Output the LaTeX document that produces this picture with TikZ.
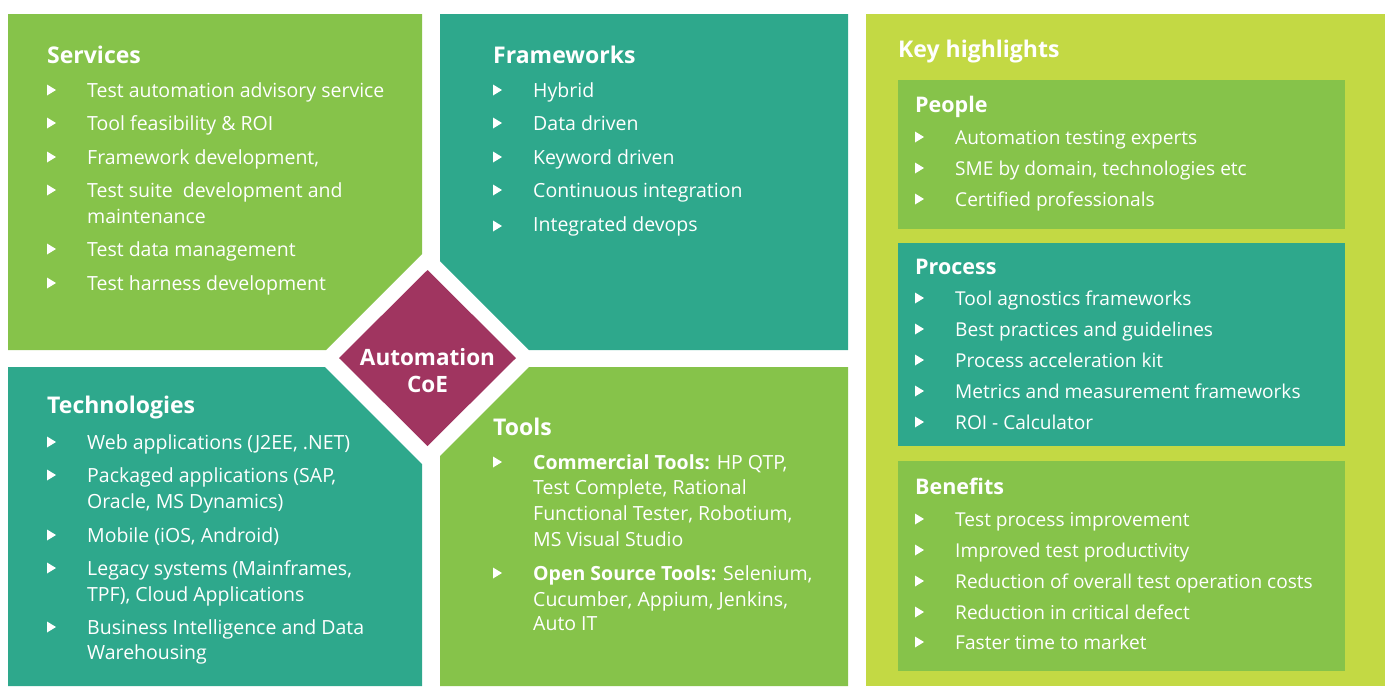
\documentclass[tikz,border=0pt]{standalone}
\usepackage{fontspec}
\setmainfont{Open Sans}
\definecolor{cgreen}{RGB}{134,195,74}
\definecolor{cteal}{RGB}{46,168,140}
\definecolor{clime}{RGB}{195,217,68}
\definecolor{cmag}{RGB}{160,53,96}
\tikzset{
  itm/.style={anchor=base west, inner sep=0pt, text=white, font=\fontsize{19.5}{23}\selectfont},
  itmr/.style={anchor=base west, inner sep=0pt, text=white, font=\fontsize{19.1}{23}\selectfont},
  hd/.style={anchor=base west, inner sep=0pt, text=white, font=\fontsize{23}{27}\selectfont\bfseries},
  subhd/.style={anchor=base west, inner sep=0pt, text=white, font=\fontsize{21.5}{25}\selectfont\bfseries},
  coetext/.style={anchor=base, inner sep=0pt, text=white, font=\fontsize{22.5}{27}\selectfont\bfseries},
  bulletmark/.style={fill=white},
}
\newcommand\bul[2]{\fill[bulletmark] (#1,#2-12.5) -- (#1,#2-1.5) -- (#1+9,#2-7) -- cycle;}
\begin{document}
\begin{tikzpicture}[x=1pt,y=-1pt]
\useasboundingbox (0,0) rectangle (1385,686);
% quadrant boxes
\fill[cgreen] (8,14) -- (422,14) -- (422,254) -- (326,350) -- (8,350) -- cycle;
\fill[cteal] (440,14) -- (848,14) -- (848,350) -- (529,350) -- (440,261) -- cycle;
\fill[cteal] (8,367) -- (325,367) -- (422,464) -- (422,686) -- (8,686) -- cycle;
\fill[cgreen] (529,367) -- (848,367) -- (848,686) -- (440,686) -- (440,456) -- cycle;
% diamond
\fill[cmag] (427.5,270) -- (516,358) -- (427.5,446) -- (339,358) -- cycle;
\node[coetext] (coe1) at (427.5,365) {Automation};
\node[coetext] (coe2) at (427.5,392) {CoE};
% right panel
\fill[clime] (866,14) rectangle (1385,686);
\fill[cgreen] (898,80) rectangle (1345,229);
\fill[cteal] (898,243) rectangle (1345,446);
\fill[cgreen] (898,461) rectangle (1345,671);

% Services
\node[hd] (srvh) at (47,63) {Services};
\bul{47}{97}\node[itm] (s1) at (87,97) {Test automation advisory service};
\bul{47}{130}\node[itm] (s2) at (87,130) {Tool feasibility \& ROI};
\bul{47}{164}\node[itm] (s3) at (87,164) {Framework development,};
\bul{47}{197}\node[itm] (s4) at (87,197) {Test suite\ \ development and};
\node[itm] (s4b) at (87,223) {maintenance};
\bul{47}{256}\node[itm] (s5) at (87,256) {Test data management};
\bul{47}{290}\node[itm] (s6) at (87,290) {Test harness development};

% Frameworks
\node[hd] (frh) at (493,63) {Frameworks};
\bul{493}{97}\node[itm] (f1) at (533,97) {Hybrid};
\bul{493}{130}\node[itm] (f2) at (533,130) {Data driven};
\bul{493}{164}\node[itm] (f3) at (533,164) {Keyword driven};
\bul{493}{197}\node[itm] (f4) at (533,197) {Continuous integration};
\bul{493}{233}\node[itm] (f5) at (533,231) {Integrated devops};

% Technologies
\node[hd] (teh) at (47,413) {Technologies};
\bul{47}{449}\node[itm] (t1) at (87,449) {Web applications (J2EE, .NET)};
\bul{47}{482}\node[itm] (t2) at (87,482) {Packaged applications (SAP,};
\node[itm] (t2b) at (87,508) {Oracle, MS Dynamics)};
\bul{47}{542}\node[itm] (t3) at (87,542) {Mobile (iOS, Android)};
\bul{47}{575}\node[itm] (t4) at (87,575) {Legacy systems (Mainframes,};
\node[itm] (t4b) at (87,601) {TPF), Cloud Applications};
\bul{47}{634}\node[itm] (t5) at (87,634) {Business Intelligence and Data};
\node[itm] (t5b) at (87,659) {Warehousing};

% Tools
\node[hd] (toh) at (493,435) {Tools};
\bul{493}{469}\node[itm] (o1) at (533,469) {\textbf{Commercial Tools:} HP QTP,};
\node[itm] (o1b) at (533,494) {Test Complete, Rational};
\node[itm] (o1c) at (533,520) {Functional Tester, Robotium,};
\node[itm] (o1d) at (533,546) {MS Visual Studio};
\bul{493}{580}\node[itm] (o2) at (533,580) {\textbf{Open Source Tools:} Selenium,};
\node[itm] (o2b) at (533,606) {Cucumber, Appium, Jenkins,};
\node[itm] (o2c) at (533,630) {Auto IT};

% Key highlights
\node[hd] (khh) at (898,57) {Key highlights};
\node[subhd] (peh) at (915,112) {People};
\bul{915}{144}\node[itmr] (p1) at (955,144) {Automation testing experts};
\bul{915}{175}\node[itmr] (p2) at (955,175) {SME by domain, technologies etc};
\bul{915}{206}\node[itmr] (p3) at (955,206) {Certified professionals};

\node[subhd] (prh) at (915,274) {Process};
\bul{915}{305}\node[itmr] (r1) at (955,305) {Tool agnostics frameworks};
\bul{915}{336}\node[itmr] (r2) at (955,336) {Best practices and guidelines};
\bul{915}{367}\node[itmr] (r3) at (955,367) {Process acceleration kit};
\bul{915}{398}\node[itmr] (r4) at (955,398) {Metrics and measurement frameworks};
\bul{915}{429}\node[itmr] (r5) at (955,429) {ROI - Calculator};

\node[subhd] (beh) at (915,494) {Benefits};
\bul{915}{526}\node[itmr] (b1) at (955,526) {Test process improvement};
\bul{915}{557}\node[itmr] (b2) at (955,557) {Improved test productivity};
\bul{915}{588}\node[itmr] (b3) at (955,588) {Reduction of overall test operation costs};
\bul{915}{619}\node[itmr] (b4) at (955,619) {Reduction in critical defect};
\bul{915}{649}\node[itmr] (b5) at (955,649) {Faster time to market};
\end{tikzpicture}
\end{document}
